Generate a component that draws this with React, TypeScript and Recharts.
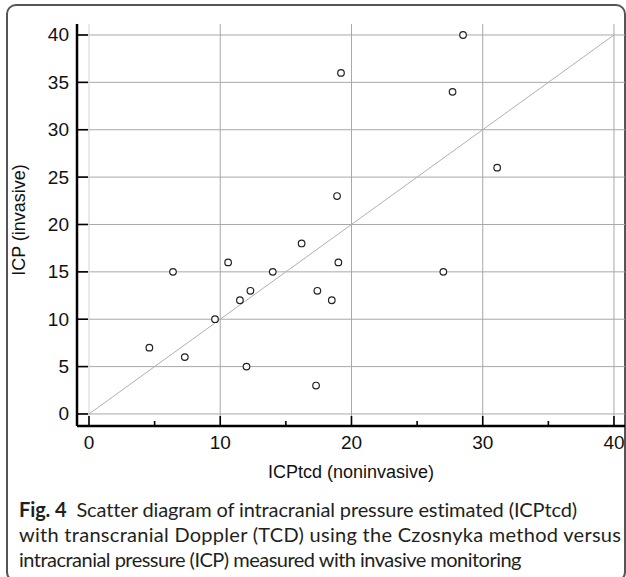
import React from "react";
import { ReferenceLine, Scatter, ScatterChart, XAxis, YAxis } from "recharts";

// ICPtcd (noninvasive) vs ICP (invasive)
const icpTcd = [
  28.5, 19.2, 27.7, 31.1, 18.9, 16.2, 10.6, 19.0, 6.4, 14.0, 27.0, 12.3, 17.4,
  11.5, 18.5, 9.6, 4.6, 7.3, 12.0, 17.3,
];
const icpInvasive = [
  40, 36, 34, 26, 23, 18, 16, 16, 15, 15, 15, 13, 13, 12, 12, 10, 7, 6, 5, 3,
];

const xTicks = [0, 5, 10, 15, 20, 25, 30, 35, 40];
const yTicks = [0, 5, 10, 15, 20, 25, 30, 35, 40];
const xGridLines = [10, 20, 30, 40];
const identityEnds = [0, 40];

const xLabel = "ICPtcd (noninvasive)";
const yLabel = "ICP (invasive)";

const points = icpTcd.map((x, i) => ({ x, y: icpInvasive[i] }));

const axisFont = "'Liberation Sans', Arial, sans-serif";

const XTick = (props: any) => {
  const { x, y, payload } = props;
  const major = payload.value % 10 === 0;
  return (
    <g>
      <line
        x1={x}
        y1={y}
        x2={x}
        y2={y - (major ? 10 : 5)}
        stroke="#000"
        strokeWidth={1.6}
      />
      {major && (
        <text
          x={x}
          y={y + 23}
          textAnchor="middle"
          fontSize={19}
          fontFamily={axisFont}
          fill="#111"
        >
          {payload.value}
        </text>
      )}
    </g>
  );
};

const YTick = (props: any) => {
  const { x, y, payload } = props;
  return (
    <g>
      <line x1={x} y1={y} x2={x + 11} y2={y} stroke="#000" strokeWidth={1.6} />
      <text
        x={x - 8}
        y={y + 6.5}
        textAnchor="end"
        fontSize={19}
        fontFamily={axisFont}
        fill="#111"
      >
        {payload.value}
      </text>
    </g>
  );
};

const Marker = (props: any) => (
  <circle
    cx={props.cx}
    cy={props.cy}
    r={3.3}
    fill="#fff"
    stroke="#222"
    strokeWidth={1.2}
  />
);

export default function App() {
  return (
    <div
      style={{
        position: "absolute",
        left: 0,
        top: 0,
        width: 626,
        height: 577,
        overflow: "hidden",
        background: "#fff",
      }}
    >
      <div
        style={{
          position: "absolute",
          left: 6,
          top: 4,
          width: 616,
          height: 574,
          border: "2px solid #555",
          borderRadius: 10,
        }}
      />
      <div style={{ position: "absolute", left: 0, top: 0 }}>
        <ScatterChart
          width={626}
          height={500}
          margin={{ top: 24, right: 1, left: 0, bottom: 0 }}
        >
          {yTicks.map((v) => (
            <ReferenceLine key={"h" + v} y={v} stroke="#a8a8a8" strokeWidth={1} />
          ))}
          <ReferenceLine x={0} stroke="#d4d4d4" strokeWidth={1} />
          {xGridLines.map((v) => (
            <ReferenceLine key={"v" + v} x={v} stroke="#a8a8a8" strokeWidth={1} />
          ))}
          <ReferenceLine
            segment={[
              { x: identityEnds[0], y: identityEnds[0] },
              { x: identityEnds[1], y: identityEnds[1] },
            ]}
            stroke="#b0b0b0"
            strokeWidth={1}
          />
          <XAxis
            type="number"
            dataKey="x"
            domain={[-0.914, 40.84]}
            ticks={xTicks}
            interval={0}
            height={74}
            tickSize={0}
            tickMargin={0}
            tickLine={false}
            tick={<XTick />}
            axisLine={{ stroke: "#000", strokeWidth: 2.5 }}
            label={{
              content: ({ viewBox }: any) => (
                <text
                  x={viewBox.x + viewBox.width / 2}
                  y={viewBox.y + 52}
                  textAnchor="middle"
                  fontSize={18}
                  fontFamily={axisFont}
                  fill="#111"
                >
                  {xLabel}
                </text>
              ),
            }}
          />
          <YAxis
            type="number"
            dataKey="y"
            domain={[-1.27, 41.16]}
            ticks={yTicks}
            interval={0}
            width={77}
            tickSize={0}
            tickMargin={0}
            tickLine={false}
            tick={<YTick />}
            axisLine={{ stroke: "#000", strokeWidth: 2.5 }}
            label={{
              content: ({ viewBox }: any) => {
                const cx = viewBox.x + 25;
                const cy = viewBox.y + viewBox.height / 2 - 5;
                return (
                  <text
                    x={cx}
                    y={cy}
                    transform={`rotate(-90, ${cx}, ${cy})`}
                    textAnchor="middle"
                    fontSize={18}
                    fontFamily={axisFont}
                    fill="#111"
                  >
                    {yLabel}
                  </text>
                );
              },
            }}
          />
          <Scatter data={points} shape={<Marker />} isAnimationActive={false} />
        </ScatterChart>
      </div>
      <div
        style={{
          position: "absolute",
          left: 19,
          top: 497,
          fontFamily: "Lato, 'Open Sans', sans-serif",
          fontSize: 20,
          lineHeight: "25px",
          color: "#231f20",
          whiteSpace: "nowrap",
        }}
      >
        <div style={{ letterSpacing: -0.12 }}>
          <b>Fig. 4</b>
          {"\u00a0\u00a0Scatter diagram of intracranial pressure estimated (ICPtcd)"}
        </div>
        <div style={{ letterSpacing: 0.28 }}>
          with transcranial Doppler (TCD) using the Czosnyka method versus
        </div>
        <div style={{ letterSpacing: -0.52 }}>
          intracranial pressure (ICP) measured with invasive monitoring
        </div>
      </div>
    </div>
  );
}
